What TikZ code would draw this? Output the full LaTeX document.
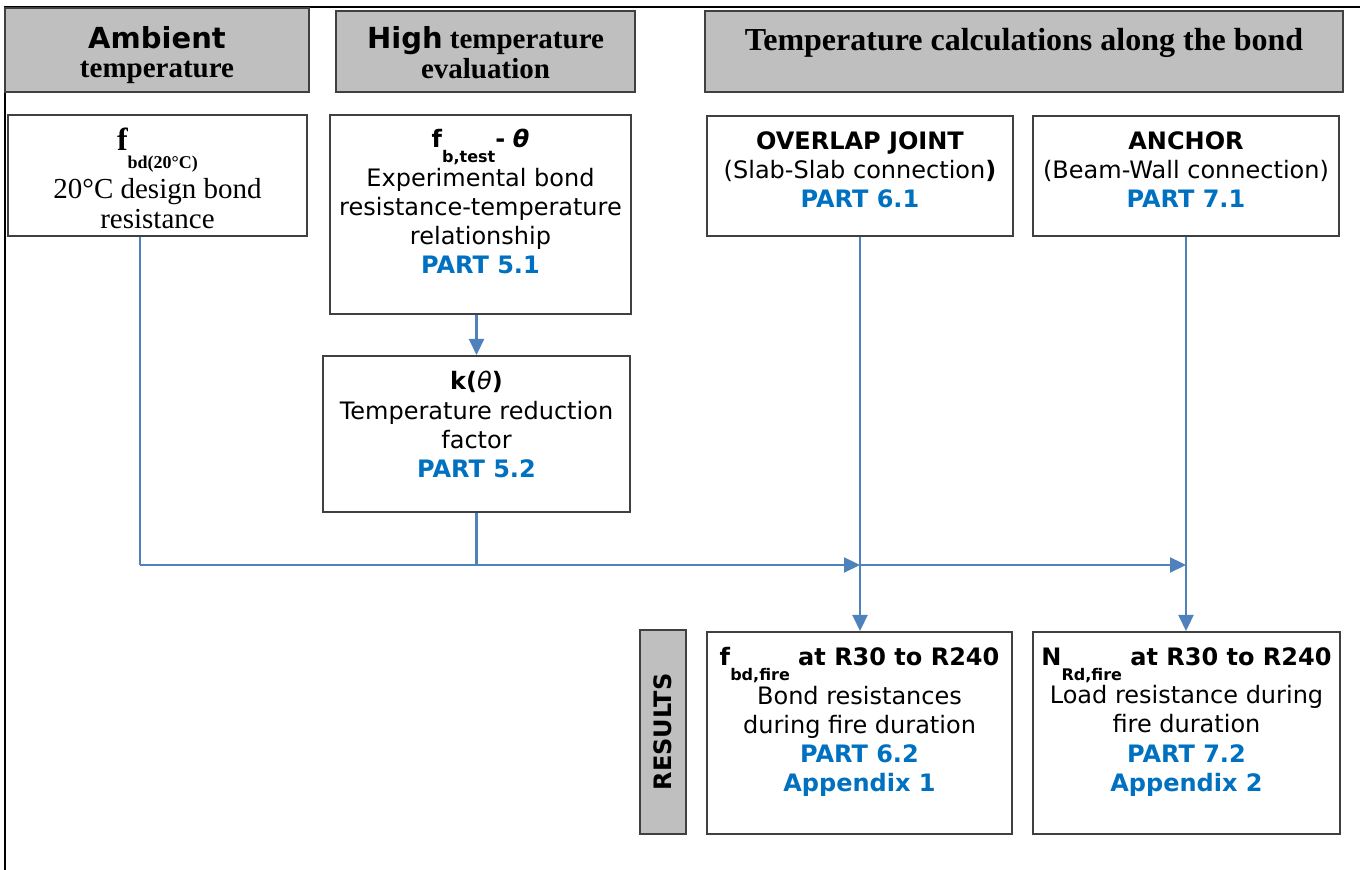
\documentclass[tikz,border=0pt]{standalone}
\usepackage{fontspec}
\setmainfont{Liberation Serif}
\newfontfamily\verd{DejaVu Sans}
\usetikzlibrary{positioning,arrows.meta}

\definecolor{hdrgray}{RGB}{191,191,191}
\definecolor{edgegray}{RGB}{64,64,64}
\definecolor{flowblue}{RGB}{79,129,189}
\definecolor{partblue}{RGB}{0,112,192}

\newcommand{\partno}[1]{\textcolor{partblue}{\bfseries #1}}
\newcommand{\lowsub}[2][7.5pt]{\raisebox{-#1}{\fontsize{8}{8}\selectfont\bfseries #2}}

\tikzset{
  hdr/.style={draw=edgegray, fill=hdrgray, line width=1pt, inner sep=0pt},
  box/.style={draw=edgegray, line width=1pt, inner sep=0pt},
  sanstxt/.style={align=center, inner sep=0pt, anchor=north, font=\verd\fontsize{12}{14.6}\selectfont},
  seriftxt/.style={align=center, inner sep=0pt, anchor=north, font=\bfseries\fontsize{14.5}{15}\selectfont},
  link/.style={draw=flowblue, line width=1.1pt},
  linkarrow/.style={link, -{Triangle[length=8pt,width=7.5pt]}}
}

\begin{document}
\begin{tikzpicture}[x=0.5pt, y=-0.5pt]

\useasboundingbox (0,0) rectangle (1360,870);
\draw[line width=1.2pt] (1360,7) -- (5,7) -- (5,870);

% column headers
\node[hdr, minimum width=152pt, minimum height=42pt] (hAmb) at (157,50) {};
\node[hdr, minimum width=149.5pt, minimum height=40.5pt] (hHigh) at (485.5,51.5) {};
\node[hdr, minimum width=319pt, minimum height=40.5pt] (hCalc) at (1024,51.5) {};

\node[seriftxt] (tAmb) at (157,26) {{\verd Ambient}\\[-0.5pt] temperature};
\node[seriftxt] (tHigh) at (485.5,26) {{\verd High} temperature\\ evaluation};
\node[seriftxt, font=\bfseries\fontsize{16}{16}\selectfont] (tCalc) at (1024,28)
  {Temperature calculations along the bond};

% boxes
\node[box, minimum width=149.5pt, minimum height=60.5pt] (boxA) at (157.5,175.5) {};
\node[box, minimum width=150.5pt, minimum height=99.5pt] (boxB) at (480.5,214.5) {};
\node[box, minimum width=153.5pt, minimum height=78pt] (boxC) at (476.5,434) {};
\node[box, minimum width=153pt, minimum height=60pt] (boxD) at (860,176) {};
\node[box, minimum width=153pt, minimum height=60pt] (boxE) at (1186,176) {};
\node[box, minimum width=152.5pt, minimum height=101pt] (boxF) at (859.5,733) {};
\node[box, minimum width=153.5pt, minimum height=101pt] (boxG) at (1186.5,733) {};
\node[hdr, rotate=90, minimum width=102pt, minimum height=23pt,
  font=\verd\bfseries\fontsize{12}{12}\selectfont] (res) at (663,732) {RESULTS};

\node[seriftxt, font=\fontsize{14.5}{15}\selectfont] (tA) at (157.5,128)
  {{\fontsize{16}{16}\selectfont\bfseries f}\raisebox{-9pt}[0pt][0pt]{\fontsize{9}{9}\selectfont\bfseries bd(20°C)}\\[9pt]
   20°C design bond\\ resistance};
\node[sanstxt] (tB) at (480.5,129)
  {\textbf{f}\lowsub{b,test}\textbf{-} \textbf{\itshape θ}\\[0.5pt]
   Experimental bond\\ resistance-temperature\\ relationship\\ \partno{PART 5.1}};
\node[sanstxt] (tC) at (476.5,371)
  {\textbf{k(}{\itshape θ}\textbf{)}\\ Temperature reduction\\ factor\\ \partno{PART 5.2}};
\node[sanstxt] (tD) at (860,131)
  {\textbf{OVERLAP JOINT}\\ (Slab-Slab connection\textbf{)}\\ \partno{PART 6.1}};
\node[sanstxt] (tE) at (1186,131)
  {\textbf{ANCHOR}\\ (Beam-Wall connection)\\ \partno{PART 7.1}};
\node[sanstxt] (tF) at (859.5,647)
  {\textbf{f}\lowsub{bd,fire}\textbf{ at R30 to R240}\\[0.5pt]
   Bond resistances\\ during fire duration\\ \partno{PART 6.2}\\ \partno{Appendix 1}};
\node[sanstxt] (tG) at (1186.5,647)
  {\textbf{N}\lowsub{Rd,fire}\textbf{ at R30 to R240}\\[0.5pt]
   Load resistance during\\ fire duration\\ \partno{PART 7.2}\\ \partno{Appendix 2}};

% flow lines
\coordinate (jA) at (140,565);
\coordinate (jD) at (860,565);
\coordinate (jE) at (1186,565);

\draw[link] (boxA.south -| jA) -- (jA);
\draw[link] (boxC.south) -- (boxC.south |- jA);
\draw[linkarrow] (jA) -- (jD);
\draw[linkarrow] (jD) -- (jE);
\draw[linkarrow] (boxB.south -| boxC.north) -- (boxC.north);
\draw[linkarrow] (boxD.south) -- (boxD.south |- boxF.north);
\draw[linkarrow] (boxE.south) -- (boxE.south |- boxG.north);

\end{tikzpicture}
\end{document}
